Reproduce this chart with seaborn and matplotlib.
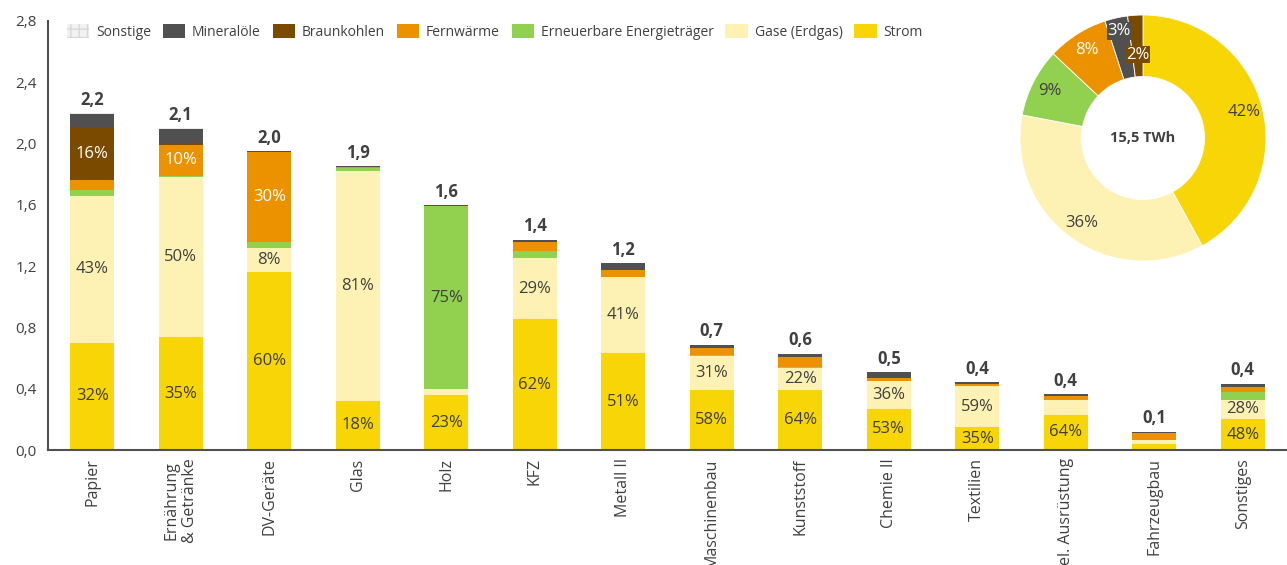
import matplotlib
matplotlib.use("Agg")
import matplotlib.pyplot as plt
from matplotlib.patches import Patch
import numpy as np
import pandas as pd
import seaborn as sns

# ---------------------------------------
# DATA (TWh)
# ---------------------------------------

branchen = ["Papier", "Ernährung\n& Getränke", "DV-Geräte", "Glas", "Holz", "KFZ", "Metall II",
            "Maschinenbau", "Kunststoff", "Chemie II", "Textilien", "el. Ausrüstung",
            "Fahrzeugbau", "Sonstiges"]

strom = [0.70, 0.735, 1.165, 0.32, 0.357, 0.854, 0.63, 0.394, 0.394, 0.27, 0.148, 0.231, 0.041, 0.20]
gase = [0.96, 1.045, 0.153, 1.50, 0.04, 0.396, 0.50, 0.22, 0.139, 0.183, 0.27, 0.098, 0.026, 0.129]
erneuerbare = [0.04, 0.01, 0.037, 0.02, 1.196, 0.046, 0.0, 0.006, 0.007, 0.0, 0.0, 0.0, 0.0, 0.052]
fernwaerme = [0.06, 0.20, 0.59, 0.007, 0.0, 0.061, 0.045, 0.047, 0.065, 0.017, 0.011, 0.021, 0.044, 0.033]
braunkohlen = [0.345, 0.015, 0.0, 0.0, 0.007, 0.0, 0.0, 0.0, 0.0, 0.0, 0.0, 0.0, 0.0, 0.0]
mineraloele = [0.09, 0.09, 0.007, 0.007, 0.0, 0.016, 0.046, 0.021, 0.024, 0.04, 0.013, 0.016, 0.009, 0.019]
sonstige = [0.005, 0.005, 0.0, 0.0, 0.0, 0.0, 0.0, 0.0, 0.0, 0.0, 0.0, 0.0, 0.0, 0.0]

strom_lbl = ["32%", "35%", "60%", "18%", "23%", "62%", "51%", "58%", "64%", "53%", "35%", "64%", "", "48%"]
gase_lbl = ["43%", "50%", "8%", "81%", "", "29%", "41%", "31%", "22%", "36%", "59%", "", "", "28%"]
erneuerbare_lbl = ["", "", "", "", "75%", "", "", "", "", "", "", "", "", ""]
fernwaerme_lbl = ["", "10%", "30%", "", "", "", "", "", "", "", "", "", "", ""]
braunkohlen_lbl = ["16%", "", "", "", "", "", "", "", "", "", "", "", "", ""]

donut_names = ["Strom", "Gase (Erdgas)", "Erneuerbare Energieträger", "Fernwärme", "Mineralöle", "Braunkohlen"]
donut_values = [42, 36, 9, 8, 3, 2]
donut_total = "15,5 TWh"

# ---------------------------------------
# STYLE
# ---------------------------------------

sns.set_style("white")
plt.rcParams["font.family"] = ["Open Sans", "DejaVu Sans"]
text_col = "#404040"

colors = {
    "Sonstige": "#ececec",
    "Mineralöle": "#505050",
    "Braunkohlen": "#7a4a00",
    "Fernwärme": "#ec9200",
    "Erneuerbare Energieträger": "#92d050",
    "Gase (Erdgas)": "#fdf2b3",
    "Strom": "#f7d506",
}

layers = [
    ("Strom", strom, strom_lbl),
    ("Gase (Erdgas)", gase, gase_lbl),
    ("Erneuerbare Energieträger", erneuerbare, erneuerbare_lbl),
    ("Fernwärme", fernwaerme, fernwaerme_lbl),
    ("Braunkohlen", braunkohlen, braunkohlen_lbl),
    ("Mineralöle", mineraloele, None),
    ("Sonstige", sonstige, None),
]

df = pd.DataFrame({"branche": branchen})
cum = np.zeros(len(branchen))
bottoms = {}
for name, vals, _ in layers:
    bottoms[name] = cum.copy()
    cum = cum + np.array(vals)
    df[name] = cum
totals = cum

fig = plt.figure(figsize=(12.87, 5.65), dpi=100)
ax = fig.add_axes([48 / 1287, 115 / 565, 1239 / 1287, 429 / 565])

# draw cumulative bars from the top layer down so lower layers cover them
for name, vals, _ in reversed(layers):
    sns.barplot(data=df, x="branche", y=name, color=colors[name], saturation=1,
                width=0.5, linewidth=0, errorbar=None, ax=ax)

# percent labels inside segments
for name, vals, lbls in layers:
    if lbls is None:
        continue
    tc = "white" if name in ("Fernwärme", "Braunkohlen") else text_col
    for i, lab in enumerate(lbls):
        if lab:
            y = bottoms[name][i] + vals[i] / 2
            ax.text(i, y, lab, ha="center", va="center", fontsize=12, color=tc)

# totals on top
for i, t in enumerate(totals):
    ax.annotate(f"{t:.1f}".replace(".", ","), (i, t), xytext=(0, 3), textcoords="offset points",
                ha="center", va="bottom", fontsize=12, fontweight="bold", color=text_col)

ax.set_xlim(-0.5, 13.5)
ax.set_ylim(0, 2.8)
yt = np.arange(0, 2.81, 0.4)
ax.set_yticks(yt)
ax.set_yticklabels([f"{v:.1f}".replace(".", ",") for v in yt], fontsize=11, color=text_col)
ax.set_xticks(range(len(branchen)))
ax.set_xticklabels(branchen, rotation=90, va="top", ha="center", fontsize=11.5, color=text_col)
ax.set_xlabel("")
ax.set_ylabel("")
ax.tick_params(axis="y", length=4, width=1, color="#404040", pad=4)
ax.tick_params(axis="x", length=0, pad=6)
for s in ["top", "right"]:
    ax.spines[s].set_visible(False)
for s in ["left", "bottom"]:
    ax.spines[s].set_color("#505050")
    ax.spines[s].set_linewidth(1.5)

# legend
handles = []
for name in ["Sonstige", "Mineralöle", "Braunkohlen", "Fernwärme", "Erneuerbare Energieträger",
             "Gase (Erdgas)", "Strom"]:
    if name == "Sonstige":
        handles.append(Patch(facecolor="#f2f2f2", edgecolor="#d8d8d8", hatch="++", linewidth=0, label=name))
    else:
        handles.append(Patch(facecolor=colors[name], linewidth=0, label=name))
ax.legend(handles=handles, ncol=7, loc="center left", bbox_to_anchor=(0.0153, 0.974),
          frameon=False, fontsize=10, handlelength=1.6, handleheight=1.1, handletextpad=0.5,
          columnspacing=0.85, borderpad=0, borderaxespad=0, labelcolor=text_col)

# ---------------------------------------
# DONUT
# ---------------------------------------

ax2 = fig.add_axes([(1143 - 130) / 1287, 1 - (138 + 130) / 565, 260 / 1287, 260 / 565])
wedges, _ = ax2.pie(donut_values, colors=[colors[n] for n in donut_names], startangle=90,
                    counterclock=False, radius=1, wedgeprops=dict(width=0.5, edgecolor="white", linewidth=0.6))
ax2.set_xlim(-1.057, 1.057)
ax2.set_ylim(-1.057, 1.057)
ax2.set_aspect("equal")
ax2.axis("off")

for w, name, v in zip(wedges, donut_names, donut_values):
    mid = np.deg2rad((w.theta1 + w.theta2) / 2)
    r = 0.85
    box = None
    tc = text_col
    if name == "Fernwärme":
        tc = "white"
    if name == "Mineralöle":
        r = 0.89
        tc = "white"
        box = dict(boxstyle="square,pad=0.05", facecolor=colors[name], linewidth=0)
    if name == "Braunkohlen":
        r = 0.68
        tc = "white"
        box = dict(boxstyle="square,pad=0.05", facecolor=colors[name], linewidth=0)
    ax2.text(r * np.cos(mid), r * np.sin(mid), f"{v}%", ha="center", va="center",
             fontsize=12, color=tc, bbox=box)

ax2.text(0, 0, donut_total, ha="center", va="center", fontsize=10.5, fontweight="bold", color=text_col)

plt.savefig("out.png", dpi=100)
